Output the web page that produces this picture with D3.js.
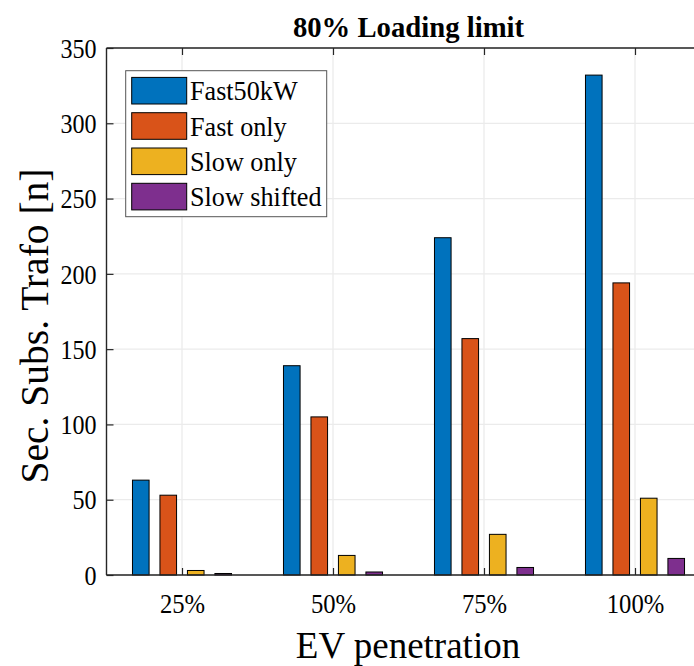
<!DOCTYPE html>
<html>
<head>
<meta charset="utf-8">
<script src="https://cdn.jsdelivr.net/npm/d3@7"></script>
<style>
  html, body { margin: 0; padding: 0; background: #fff; }
  svg { display: block; }
  text { font-family: "Liberation Serif", "Times New Roman", serif; fill: #000; }
</style>
</head>
<body>
<svg id="chart" width="694" height="666"></svg>
<script>
// ---- data ----
const categories = ["25%", "50%", "75%", "100%"];
const seriesNames = ["Fast50kW", "Fast only", "Slow only", "Slow shifted"];
const fast50kW   = [63, 139, 224, 332];
const fastOnly   = [53, 105, 157, 194];
const slowOnly   = [3, 13, 27, 51];
const slowShifted = [1, 2, 5, 11];
const yTicks = [0, 50, 100, 150, 200, 250, 300, 350];
const colors = ["#0072BD", "#D95319", "#EDB120", "#7E2F8E"];
const titleText = "80% Loading limit";
const xLabel = "EV penetration";
const yLabel = "Sec. Subs. Trafo [n]";

const series = [fast50kW, fastOnly, slowOnly, slowShifted];

const svg = d3.select("#chart");
const mLeft = 106.5, mRight = 710.5, mTop = 48, mBottom = 575;

const x = d3.scaleLinear().domain([0.5, 4.5]).range([mLeft, mRight]);
const y = d3.scaleLinear().domain([0, 350]).range([mBottom, mTop]);

const slot = 0.182, barW = 0.11;
const axisColor = "#262626";
const gridColor = "#ebebeb";

// grid
const g = svg.append("g");
g.selectAll("line.hg").data(yTicks).join("line")
  .attr("x1", mLeft).attr("x2", mRight)
  .attr("y1", d => y(d)).attr("y2", d => y(d))
  .attr("stroke", gridColor).attr("stroke-width", 1.3);
g.selectAll("line.vg").data(categories).join("line")
  .attr("x1", (d, i) => x(i + 1)).attr("x2", (d, i) => x(i + 1))
  .attr("y1", mTop).attr("y2", mBottom)
  .attr("stroke", gridColor).attr("stroke-width", 1.3);

// bars
series.forEach((vals, j) => {
  svg.append("g").selectAll("rect").data(vals).join("rect")
    .attr("x", (d, i) => x(i + 1 + (j - 1.5) * slot - barW / 2))
    .attr("width", x(barW) - x(0))
    .attr("y", d => y(d))
    .attr("height", d => y(0) - y(d))
    .attr("fill", colors[j])
    .attr("stroke", "#000").attr("stroke-width", 1);
});

// axes
const yAxis = d3.axisLeft(y).tickValues(yTicks).tickSize(-7).tickPadding(17);
const yg = svg.append("g").attr("transform", `translate(${mLeft},0)`).call(yAxis);
const xAxis = d3.axisBottom(x).tickValues([1, 2, 3, 4]).tickFormat((d) => categories[d - 1]).tickSize(-7).tickPadding(17);
const xg = svg.append("g").attr("transform", `translate(0,${mBottom})`).call(xAxis);
const xAxisTop = d3.axisTop(x).tickValues([1, 2, 3, 4]).tickFormat("").tickSize(-7);
const xtg = svg.append("g").attr("transform", `translate(0,${mTop})`).call(xAxisTop);

[yg, xg, xtg].forEach(a => {
  a.select(".domain").attr("stroke", axisColor).attr("stroke-width", 1.4);
  a.selectAll(".tick line").attr("stroke", axisColor).attr("stroke-width", 1.2);
});
xg.select(".domain").attr("d", `M${mLeft},0H${mRight}`);
xtg.select(".domain").attr("d", `M${mLeft},0H${mRight}`);
yg.select(".domain").attr("d", `M0,${mBottom}V${mTop}`);

yg.selectAll(".tick text")
  .attr("font-size", 28).attr("font-family", "Liberation Serif").attr("fill", "#262626")
  .attr("x", null).attr("dy", "0.33em")
  .attr("text-anchor", "end")
  .attr("transform", "translate(-10,0) scale(0.86,1)");
xg.selectAll(".tick text")
  .attr("font-size", 28).attr("font-family", "Liberation Serif").attr("fill", "#262626")
  .attr("y", null).attr("dy", null)
  .attr("text-anchor", "middle")
  .attr("transform", "translate(0,38) scale(0.88,1)");

// title
svg.append("text").text(titleText)
  .attr("text-anchor", "middle")
  .attr("font-size", 29).attr("font-weight", "bold")
  .attr("transform", `translate(${(mLeft + mRight) / 2},37) scale(0.99,1)`);

// x label
svg.append("text").text(xLabel)
  .attr("text-anchor", "middle").attr("font-size", 37).attr("fill", "#262626")
  .attr("transform", `translate(408,658)`);

// y label
svg.append("text").text(yLabel)
  .attr("text-anchor", "middle").attr("font-size", 39.5).attr("fill", "#262626")
  .attr("transform", `translate(48,326) rotate(-90)`);

// legend
const lg = svg.append("g");
lg.append("rect").attr("x", 125.7).attr("y", 70.7).attr("width", 201).attr("height", 146)
  .attr("fill", "#fff").attr("stroke", "#555").attr("stroke-width", 1);
seriesNames.forEach((name, j) => {
  const cy = 90.7 + j * 35.3;
  lg.append("rect").attr("x", 131.7).attr("y", cy - 13.3).attr("width", 55).attr("height", 26.6)
    .attr("fill", colors[j]).attr("stroke", "#000").attr("stroke-width", 1);
  lg.append("text").text(name).attr("font-size", 28)
    .attr("transform", `translate(190,${cy + 9.5}) scale(0.935,1)`);
});
</script>
</body>
</html>
